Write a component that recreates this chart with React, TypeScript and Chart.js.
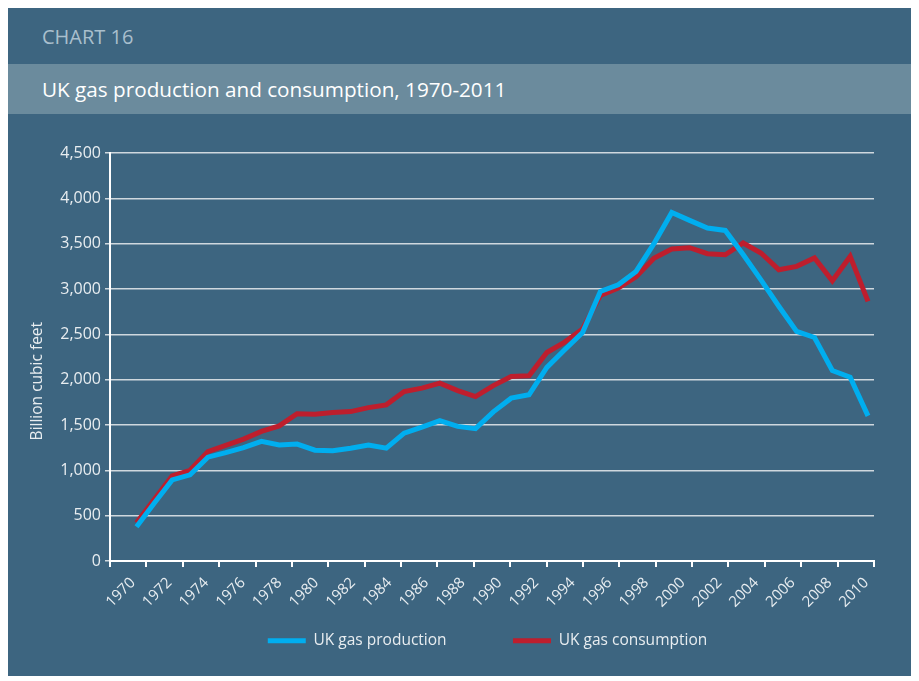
import React, { useEffect, useRef } from 'react';
import { Chart, registerables } from 'chart.js';

Chart.register(...registerables);

const years = [
  1970, 1971, 1972, 1973, 1974, 1975, 1976, 1977, 1978, 1979,
  1980, 1981, 1982, 1983, 1984, 1985, 1986, 1987, 1988, 1989,
  1990, 1991, 1992, 1993, 1994, 1995, 1996, 1997, 1998, 1999,
  2000, 2001, 2002, 2003, 2004, 2005, 2006, 2007, 2008, 2009,
  2010, 2011,
];

const production = [
  379, 640, 894, 950, 1145, 1195, 1250, 1320, 1280, 1290,
  1222, 1216, 1244, 1278, 1244, 1410, 1476, 1549, 1485, 1460,
  1645, 1796, 1833, 2135, 2330, 2520, 2973, 3047, 3194, 3500,
  3845, 3757, 3673, 3646, 3380, 3100, 2810, 2533, 2465, 2101,
  2028, 1601,
];

const consumption = [
  423, 680, 939, 1000, 1207, 1275, 1345, 1430, 1490, 1625,
  1619, 1637, 1648, 1692, 1722, 1869, 1907, 1962, 1880, 1814,
  1935, 2035, 2043, 2300, 2415, 2560, 2930, 3011, 3135, 3340,
  3441, 3455, 3389, 3378, 3507, 3397, 3213, 3250, 3343, 3091,
  3359, 2863,
];

const tickLabels = [
  '1970', '1972', '1974', '1976', '1978', '1980', '1982', '1984', '1986', '1988',
  '1990', '1992', '1994', '1996', '1998', '2000', '2002', '2004', '2006', '2008',
  '2010',
];

const seriesNames = ['UK gas production', 'UK gas consumption'];
const yTitle = 'Billion cubic feet';

const FONT = "'Open Sans', sans-serif";
const TEXT = '#e8edf0';

export default function App() {
  const ref = useRef<HTMLCanvasElement>(null);

  useEffect(() => {
    if (!ref.current) return;
    const xMin = 1968.514;
    const xMax = 2011.336;
    const labelStart = 1969.8;
    const labelEnd = 2010.9;
    const chart = new Chart(ref.current, {
      type: 'line',
      data: {
        datasets: [
          {
            label: seriesNames[0],
            data: years.map((x, i) => ({ x, y: production[i] })),
            borderColor: '#00aeef',
            backgroundColor: '#00aeef',
            borderWidth: 5,
            pointRadius: 0,
            tension: 0,
          },
          {
            label: seriesNames[1],
            data: years.map((x, i) => ({ x, y: consumption[i] })),
            borderColor: '#be1e2d',
            backgroundColor: '#be1e2d',
            borderWidth: 5,
            pointRadius: 0,
            tension: 0,
          },
        ],
      },
      options: {
        animation: false,
        responsive: false,
        layout: { padding: { top: 39, right: 0, bottom: 17.5, left: 0 } },
        scales: {
          x: {
            type: 'linear',
            min: xMin,
            max: xMax,
            afterBuildTicks: (s: any) => {
              const t: any[] = [];
              for (let k = 0; k <= 21; k++) t.push({ value: xMin + (k * (xMax - xMin)) / 21, txt: '' });
              tickLabels.forEach((l, i) =>
                t.push({ value: labelStart + (i * (labelEnd - labelStart)) / (tickLabels.length - 1), txt: l })
              );
              t.sort((a, b) => a.value - b.value);
              s.ticks = t;
            },
            afterFit: (s: any) => {
              s.height = 62;
              s.paddingLeft = 0;
              s.paddingRight = 93;
            },
            ticks: {
              autoSkip: false,
              maxRotation: 45,
              minRotation: 45,
              padding: 7,
              color: TEXT,
              font: { family: FONT, size: 15 },
              callback: (v: any, i: number, t: any[]) => (t[i] && t[i].txt) || '',
            },
            grid: {
              drawOnChartArea: false,
              drawTicks: true,
              tickLength: 6,
              lineWidth: 2,
              color: (ctx: any) => (ctx.tick && ctx.tick.txt ? 'rgba(0,0,0,0)' : '#ffffff'),
            },
            border: { color: '#ffffff', width: 2 },
          },
          y: {
            min: 0,
            max: 4500,
            ticks: {
              stepSize: 500,
              padding: 4,
              color: TEXT,
              font: { family: FONT, size: 16 },
              callback: (v: any) => Number(v).toLocaleString('en-US'),
            },
            grid: { color: '#cfd8de', lineWidth: 1.5, tickLength: 5 },
            border: { color: '#ffffff', width: 2 },
            title: {
              display: true,
              text: yTitle + ' '.repeat(12),
              color: TEXT,
              font: { family: FONT, size: 15.5 },
              padding: { top: 20, bottom: 0 },
            },
            afterFit: (s: any) => {
              s.width = 102;
              s.paddingTop = 0;
              s.paddingBottom = 0;
            },
          },
        },
        plugins: {
          legend: {
            position: 'bottom',
            labels: {
              color: TEXT,
              font: { family: FONT, size: 15.5 },
              boxWidth: 38,
              boxHeight: 5,
              padding: 10,
              generateLabels: (c: any) =>
                (Chart.defaults.plugins.legend.labels as any).generateLabels(c).map((it: any, i: number) => ({
                  ...it,
                  lineWidth: 0,
                  fillStyle: it.strokeStyle,
                  text: i === 0 ? it.text + ' '.repeat(14) : it.text,
                })),
            },
          },
          tooltip: { enabled: false },
        },
      } as any,
    });
    return () => chart.destroy();
  }, []);

  return (
    <div
      style={{
        width: 903,
        height: 668,
        background: '#3d6580',
        overflow: 'hidden',
        fontFamily: FONT,
      }}
    >
      <div
        style={{
          height: 56,
          display: 'flex',
          alignItems: 'center',
          paddingLeft: 34,
          color: '#a9bfcd',
          fontSize: 20,
        }}
      >
        CHART 16
      </div>
      <div
        style={{
          height: 50,
          display: 'flex',
          alignItems: 'center',
          paddingLeft: 34,
          background: '#6b8b9d',
          color: '#ffffff',
          fontSize: 20.7,
        }}
      >
        UK gas production and consumption, 1970-2011
      </div>
      <canvas ref={ref} width={959} height={562} style={{ display: 'block' }} />
    </div>
  );
}
